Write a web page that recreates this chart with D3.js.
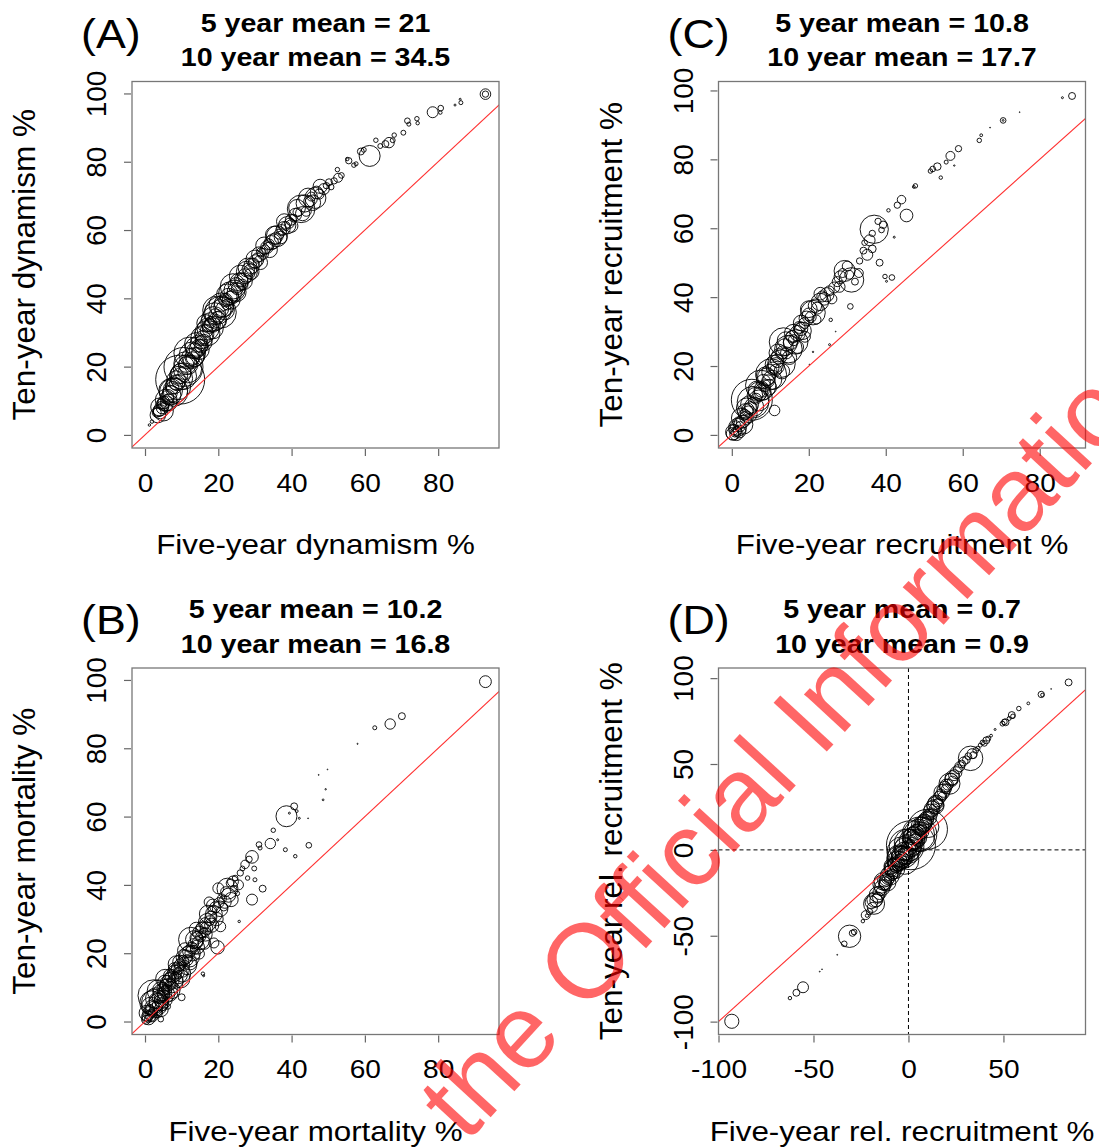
<!DOCTYPE html>
<html>
<head>
<meta charset="utf-8">
<script src="https://cdnjs.cloudflare.com/ajax/libs/d3/7.8.5/d3.min.js"></script>
<style>
  body { margin: 0; background: #fff; }
  text { font-family: "Liberation Sans", Arial, Helvetica, sans-serif; }
</style>
</head>
<body>
<svg id="fig" width="1099" height="1148"></svg>
<script>
// points: [five-year %, ten-year %, plot size]
var dynamism = [
  [1.2,2.9,1.5],[1.9,3.9,3],[3.2,6.5,20],[3.8,7.1,35],[4.2,6.8,50],[4.6,7.8,30],[5.1,9.5,40],[4.4,9,25],
  [5.6,9.2,60],[6,11,45],[6.4,10.4,30],[5.3,8.3,20],[6.8,12.4,55],[7.2,11.6,90],[7.5,13.8,40],[8,14.5,70],
  [8.3,13,150],[8.8,15.2,60],[9.6,16.2,600],[10.5,19.9,380],[9.2,17.5,80],[10,16.5,120],[10.8,18.2,45],
  [11.2,20.6,60],[11.6,19.4,200],[12,21.5,35],[12.5,22.8,80],[12.2,24,250],[13,22.5,40],[13.4,24.6,60],
  [13.8,25.5,110],[14.2,24,30],[14.6,26.8,70],[15,27.5,25],[15.3,26,45],[15.8,28.4,55],[16.2,29.5,90],
  [16.8,30.5,40],[16.5,32.7,75],[17.2,31,120],[17.6,31.8,50],[18,33,30],[18.4,32.4,65],[18.8,34,150],
  [19.2,35,45],[19.6,36.5,200],[20,34.5,35],[20.4,37,80],[20.6,35.9,250],[21,38.5,60],[21.5,37.5,100],
  [22,39.5,45],[22.4,38.2,30],[22.8,40.5,70],[23.2,41.5,130],[23.8,40.6,40],[24.4,42.3,110],[24.8,43.8,60],
  [25.2,42.8,35],[25.7,44.8,80],[26.2,45.5,45],[26.6,44,30],[27.3,46.5,55],[27.8,47.8,110],[28.2,48.5,40],
  [28.6,47.2,25],[29.1,49.5,60],[29.6,50.2,30],[30.1,50.8,45],[30.6,51.8,25],[31.1,52.9,55],[31.6,53.5,20],
  [32.2,53,30],[32.7,54.2,25],[33.3,55,40],[33.8,55.8,30],[34.5,56.3,50],[35,56.7,55],[35.6,57.5,35],
  [36,58.2,110],[36.6,58.8,25],[37.2,60,30],[37.8,60.5,45],[38.4,61.2,20],[38.8,61.4,75],[39.4,62,25],
  [39.8,63,30],[40.5,63.5,15],[41,64.5,40],[41.6,65.2,20],[42.6,66.2,190],[43.6,67.8,75],[44,65.5,25],
  [44.8,68.4,30],[45.4,69.8,20],[46.5,69.4,110],[46.8,71,40],[47.5,70.5,25],[48.8,72,30],[49.5,73,10],
  [50.8,72.6,8],[50.2,74,12],[51.6,74.4,10],[52.5,77.7,5],[52.7,75.3,20],[53.6,76,8],[55.6,80.3,10],
  [55.2,80.8,3],[57,79,5],[57.6,79.4,4],[58.9,83,12],[59.7,83.5,6],[61.3,81.7,110],[63,86.3,5],
  [64.2,84.6,6],[65.6,85.2,12],[66.6,85.6,27],[67.6,86.3,6],[68,87.8,5],[70.5,88.5,6],[71.6,92,8],
  [72,91,4],[74.2,92.6,5],[74.4,91.3,3],[78.5,94.5,30],[80.7,95.7,8],[80.6,94.4,3],[84.6,96.6,1],
  [86.2,97.3,4],[86,98.3,1],[92.9,99.8,28],[92.9,99.8,10],
  [3.5,5.8,60],[4,8.2,80],[5,7,100],[5.8,10.2,120],[6.5,9.5,70],[7,13,140],[7.8,12.5,200],[8.5,16,90],
  [9,14,160],[9.8,18,100],[10.4,17.2,180],[11,21,130],[11.8,20.5,90],[12.8,23.5,160],[13.5,22.8,90],
  [14,26.5,140],[14.8,25,100],[15.5,28.5,120],[16,27,70],[17,29.8,160],[17.8,33,90],[18.5,31.2,110],
  [19,35.5,120],[19.8,33.5,80],[20.8,38,150],[21.8,36.5,90],[22.5,41,120],[23.5,39.5,80],[24,43.5,160],
  [25,41.8,90],[26,46.5,120],[27,45,70],[28,49,90],[29,47.8,60],[30,51.5,80],[31.5,50.5,50],[32.5,55.5,70],
  [34,54.2,60],[35.3,58.5,80],[37,57.8,40],[38,62.5,60],[40,61.2,40],[41.5,66.5,70],[43,64.8,50],
  [44.5,69.5,90],[45.8,68,60],[47.8,72.8,50]
];

var recruitment = [
  [0.2,0.3,40],[0.5,1.5,25],[0.8,0.5,15],[1,2.5,30],[1.4,1.2,20],[1.8,3.5,35],[2.2,2.4,25],[2.5,4.9,100],
  [2.8,3.8,40],[3.2,5.8,30],[3.5,6.8,60],[3.8,5,45],[4.2,7.5,35],[4.6,8.8,80],[5,7.8,40],[5.2,10.2,420],
  [5.5,9.5,250],[6,11.5,60],[6.3,10.5,30],[6.8,12.5,90],[7.2,11.8,45],[7.5,14.4,230],[7.8,13.2,60],
  [8.2,15.5,50],[8.6,14.3,35],[9,16.8,80],[9.4,15.6,40],[9.8,18.2,60],[10.2,17.6,240],[10.6,19.3,40],
  [11.1,7.1,28],[11,20.5,80],[11.4,18.8,35],[11.8,21.5,45],[12.3,22.8,60],[12.9,20.7,190],[13.4,27,200],
  [13.2,24,40],[13.8,25.5,70],[14.2,23.8,35],[14.7,24.9,190],[15.2,26.8,50],[15.7,28.5,40],[16.1,27.5,30],
  [16.6,27,150],[17.1,29.5,60],[17.5,31.2,35],[18,30.8,45],[18.4,30.2,75],[18.9,32.5,30],[19.4,33.8,55],
  [20,35,40],[20.5,34.2,30],[21.1,35.5,150],[21.6,37.5,45],[22.2,36.8,35],[22.9,38.6,75],[23.5,40.2,30],
  [24,39.5,40],[24.7,40.7,50],[25.3,41.8,25],[25.7,33.4,3],[25.4,26.2,1],[21.1,24.1,0.5],[20.2,20.4,0.2],
  [27,30,0.1],[26.6,42.8,30],[27.4,44.5,25],[28.2,45.8,40],[28.8,47,20],[29.3,47.6,110],[30,49,25],
  [30.5,46.5,20],[31.1,45,150],[30.8,37.3,8],[32,44.5,12],[33.2,50.5,10],[34.2,53.5,12],[34.5,55.8,8],
  [35.2,52.3,30],[35.8,56.5,30],[36.5,58.5,10],[37,59.7,200],[38,62,10],[38.4,50,12],[38.9,59.5,8],
  [39.3,61,14],[39.8,46,5],[40.2,44.6,1],[40.7,65.2,3],[41.6,45.7,8],[42.2,57.4,1],[43,66.7,10],
  [44.1,68.3,18],[45.4,63.7,40],[47.3,72,2],[47.7,72.3,5],[51.6,76.6,5],[52.2,77.2,8],[53.4,77.9,14],
  [54.3,74.7,3],[55.7,79.2,4],[56.8,81,20],[57.8,78.2,0.5],[58.9,83.1,10],[64.3,85.5,5],[64.8,87,2],
  [67.1,89.2,0.2],[70.5,91.3,8],[70.5,91.3,0.8],[74.8,93.7,0.1],[85.9,97.9,1],[88.4,98.4,12],
  [0.4,0.8,60],[1.2,0.3,45],[1.5,2.2,80],[2,1,40],[3,3,90],[3.8,7.8,100],[4.4,6,70],[5.8,8.2,90],
  [6.5,13,80],[7,10,110],[8,12.5,70],[8.8,17,90],[9.6,13.8,60],[10.5,16,90],[11.5,20,70],[12,23.8,80],
  [13,18.5,60],[14,27.5,70],[15,22.5,50],[16,29.5,80],[17,25.5,40],[18,32.5,60],[19,28.5,30],[20,36.5,70],
  [22,33.5,20],[23,41,40],[26,39.5,25],[28,43,30],[33,47,20],[36.5,54,15]
];

var mortality = [
  [0.3,0.5,20],[0.6,1.5,30],[0.9,0.8,15],[1.1,2.5,40],[1.3,3.5,25],[1.6,1.8,35],[1.9,4.2,50],[2.2,2.8,20],
  [2.4,7.6,250],[2.7,5.5,180],[3,3.8,40],[3.2,6.2,60],[3.5,4.8,30],[3.8,7.2,45],[4.1,6,35],[4.3,0.7,8],
  [4.5,8.5,70],[4.8,7.2,30],[5,9.6,40],[5.3,8.3,55],[5.6,10.6,35],[5.9,9.4,25],[6.2,4.4,8],[6.2,11.2,60],
  [6.6,12.4,40],[7,10.8,30],[7.2,9.2,75],[7.4,13.2,45],[7.8,12,30],[8.1,14.5,50],[8.5,13.3,25],
  [8.9,15.6,40],[9.2,14.2,30],[9.6,16.6,35],[10,7.1,12],[10,15.2,60],[10.4,17.8,30],[10.8,16.5,25],
  [11.2,19,45],[11.6,18,30],[12,20.5,40],[12.5,24,150],[12.8,21.5,35],[13.2,22.8,25],[13.6,21,20],
  [14,24.5,40],[14.4,23.2,30],[14.8,19.8,27],[14.8,26,45],[15.2,24.8,25],[15.8,14,3],[16,13.4,1],
  [15.6,27.5,35],[16,26.2,20],[16.4,28.8,30],[16.8,27.3,40],[17.2,31.5,75],[17.6,29.5,25],[18,30.6,35],
  [18.4,32.5,20],[18.8,23,25],[19.2,33.5,30],[19.8,21.7,45],[20.2,34.8,25],[20.6,27.8,27],[21,36,20],
  [21.5,33.5,15],[22,38,25],[22.5,38.9,110],[23.5,35.7,50],[23.2,40.5,15],[24.2,39,10],[24.6,42,8],
  [25.2,37.5,5],[25.7,29.3,1.5],[26,43.5,10],[26.6,44.8,6],[27.3,46,18],[28,42,5],[28.4,47.5,10],
  [29.2,48.2,40],[29.2,35.7,30],[29.8,44.8,6],[30,41.5,4],[31.1,51.8,8],[31.4,50.8,4],[32.1,38.9,12],
  [34.2,52.1,27],[35,56,5],[36.2,53.2,1],[38.3,50.3,4],[38.6,60.1,110],[39.4,61,1],[40.7,63,12],
  [41,48.4,3],[41.4,61.6,2],[42.1,59.5,1],[44.7,51.6,8],[44.5,59.5,0.2],[47.4,72.2,0.2],[48.6,64.9,0.8],
  [49.3,68,0.5],[49.8,73.8,0.1],[58,81.3,0.3],[62.7,86,4],[66.9,87.1,27],[70.1,89.4,12],[92.9,99.5,35],
  [0.5,2.5,60],[1,1,45],[1.5,4.5,80],[2,1.5,30],[2.5,3.5,70],[3,6.8,110],[3.4,2.5,25],[3.7,5.5,90],
  [4.2,9.3,60],[4.6,5,40],[5,6.5,80],[5.4,11.5,50],[5.8,8,70],[6.4,9.8,90],[6.8,13.5,40],[7.5,11.5,110],
  [8,15.5,35],[8.3,12,60],[9,13.8,90],[9.4,17.5,45],[10.2,14,70],[10.6,18.8,60],[11.5,16.5,90],[12,19,110],
  [13,20,60],[13.5,24,80],[14.3,21.8,50],[15,23.8,90],[15.8,26.8,60],[16.5,25.5,45],[17,29,80],
  [18.2,28.2,50],[18.8,31.5,70],[19.5,30,45],[20.5,33,60],[21.8,35,40],[22.8,37,50],[24,41,30],
  [25.5,40,25],[20,39,30],[17.5,35,25],
  [1.8,5.5,140],[3.6,9,120],[4.4,3.5,50],[5.5,12.5,90],[6.8,8.2,60],[8.6,16.8,70],[9.8,12.5,80],
  [11,20.8,60],[12.3,17.2,50],[14,27,50],[16.2,23,40],[18.5,34,40]
];

var relRecruitment = [
  [-93,-99.8,50],[-62.4,-86.3,3],[-59,-83.2,12],[-55.5,-80,30],[-46.7,-70.9,0.2],[-45.5,-69.5,0.1],
  [-37.5,-61.1,0.2],[-33.8,-54.7,8],[-31,-50.3,125],[-29.5,-48.5,10],[-28.6,-47.8,8],[-24,-41.5,3],
  [-21.8,-38.3,3],[-20.5,-36,10],[-19,-33.5,25],[-18.1,-31.4,110],[-17,-29.5,40],[-16,-27.8,30],
  [-15.2,-25,45],[-14.5,-24,20],[-13.5,-18.3,75],[-13.8,-22,60],[-12.8,-20.5,30],[-12,-19.5,40],
  [-11.5,-16.8,55],[-10.8,-15.5,35],[-10,-17,25],[-9.5,-13.5,60],[-9,-11.8,40],[-8.5,-14.5,30],
  [-8,-10.5,80],[-7.5,-12.8,45],[-7,-8.6,55],[-6.5,-10,35],[-6,-6.5,100],[-5.5,-8.5,40],[-5,-5,150],
  [-4.5,-7.2,60],[-4,-3,90],[-3.5,-5.5,45],[-3,-1.5,250],[-2.5,-3.8,70],[-2,0.5,120],[-1.5,-2,50],
  [-1,2,300],[-0.5,-0.5,80],[0,4,200],[0.5,1.5,60],[1.3,2.7,600],[1.8,5,90],[2.2,3.5,40],[2.8,7,120],
  [3.2,4.8,55],[3.8,8.8,80],[4.2,6.5,35],[5,10.5,60],[5.5,8.5,250],[6,12.5,45],[6.8,11,35],[7.2,14.5,70],
  [7.8,13,30],[8.5,16.5,55],[9,15,40],[9.8,18.8,45],[10.5,13.3,110],[10.8,20.5,30],[11.5,22.5,50],
  [12.2,21,35],[13,25.5,40],[13.5,23.8,25],[14.2,25.9,75],[15,28.5,35],[15.6,27,25],[16.3,30.5,40],
  [17,32.2,30],[17.8,31,20],[18.5,34.5,45],[19.2,36.5,35],[20,35.5,25],[20.8,38,30],[21.6,38.5,110],
  [22.5,41,40],[23.2,40,25],[24,43.5,30],[25,45,35],[26,47,20],[27,48.5,25],[28,50,15],[29,51.5,20],
  [30.5,52.5,15],[31.5,54.5,12],[32.7,53.3,150],[33.5,56,25],[34.2,55.2,12],[35.4,57.9,8],[36.5,59,5],
  [37.8,61,4],[39,62.5,6],[40,62,8],[41,63.8,12],[42,64.8,6],[43.5,66.5,2],[45.6,70.1,1],[49.5,73.5,6],
  [50.5,74.5,8],[51.1,74.3,12],[53,76.5,4],[54.4,78.5,12],[55,77.8,5],[58.1,82.3,5],[63.1,85.3,2],
  [69.9,90.5,10],[70.5,90.2,3],[75.1,93.7,0.1],[84.3,97.5,12],
  [-19.5,-30.5,40],[-16.5,-26,60],[-14,-20,80],[-12.5,-17.5,50],[-11,-19,70],[-9.8,-15,90],[-8.8,-9.5,60],
  [-7.2,-11,100],[-6.2,-8.2,70],[-5.2,-3.5,120],[-4.2,-6,80],[-3.2,-4,110],[-2.2,-1,90],[-1.2,-3.5,70],
  [-0.2,1,180],[0.8,-1,90],[1,5.5,120],[2,1,70],[2.5,8.2,80],[3.5,6,100],[4.5,9.5,90],[5.2,7,70],
  [6.2,13.8,80],[7,10.5,50],[8,15.5,70],[9.2,17.5,60],[10,12,400],[11,18.5,50],[12.5,24,60],[14,27.5,50],
  [15.2,26,40],[17.5,33.5,60],[19.8,37.5,40],[23,42,50],[-22.5,-38,20],[-17.8,-29,60],[5.8,9,300],[-2,-6,200]
];

var panelLetters = ["(A)", "(C)", "(B)", "(D)"];
var mean5 = [21, 10.8, 10.2, 0.7];
var mean10 = [34.5, 17.7, 16.8, 0.9];
var xLabels = ["Five-year dynamism %", "Five-year recruitment %", "Five-year mortality %", "Five-year rel. recruitment %"];
var yLabels = ["Ten-year dynamism %", "Ten-year recruitment %", "Ten-year mortality %", "Ten-year rel. recruitment %"];
var pctTicksX = [0, 20, 40, 60, 80];
var pctTicksY = [0, 20, 40, 60, 80, 100];
var relTicksX = [-100, -50, 0, 50];
var relTicksY = [-100, -50, 0, 50, 100];

// axis limits as drawn
var xLims = [[-3.55, 96.6], [-3.46, 91.9], [-3.55, 96.6], [-100, 93.2]];
var yLims = [[-3.83, 103.5], [-3.8, 102.6], [-3.8, 103.5], [-107.5, 105.9]];

var svg = d3.select("#fig");
svg.append("rect").attr("width", 1099).attr("height", 1148).attr("fill", "#fff");

var boxW = 367, boxH = 366.5;
var lefts = [132, 718.5], tops = [81.5, 668];
var rSize = d3.scaleSqrt().domain([0, 625]).range([0, 25]);

var panels = [
  { pts: dynamism, col: 0, row: 0, xt: pctTicksX, yt: pctTicksY, zero: false },
  { pts: recruitment, col: 1, row: 0, xt: pctTicksX, yt: pctTicksY, zero: false },
  { pts: mortality, col: 0, row: 1, xt: pctTicksX, yt: pctTicksY, zero: false },
  { pts: relRecruitment, col: 1, row: 1, xt: relTicksX, yt: relTicksY, zero: true }
];

panels.forEach(function (p, i) {
  var g = svg.append("g")
    .attr("transform", "translate(" + lefts[p.col] + "," + tops[p.row] + ")");

  var x = d3.scaleLinear().domain(xLims[i]).range([0, boxW]);
  var y = d3.scaleLinear().domain(yLims[i]).range([boxH, 0]);

  g.append("clipPath").attr("id", "clip" + i)
    .append("rect").attr("width", boxW).attr("height", boxH);

  var plot = g.append("g").attr("clip-path", "url(#clip" + i + ")");

  if (p.zero) {
    plot.append("line")
      .attr("x1", x(0)).attr("x2", x(0)).attr("y1", 0).attr("y2", boxH)
      .attr("stroke", "#000").attr("stroke-width", 1).attr("stroke-dasharray", "4,3");
    plot.append("line")
      .attr("x1", 0).attr("x2", boxW).attr("y1", y(0)).attr("y2", y(0))
      .attr("stroke", "#000").attr("stroke-width", 1).attr("stroke-dasharray", "4,3");
  }

  plot.selectAll("circle")
    .data(p.pts)
    .enter().append("circle")
    .attr("cx", function (d) { return x(d[0]); })
    .attr("cy", function (d) { return y(d[1]); })
    .attr("r", function (d) { return Math.max(0.4, rSize(d[2])); })
    .attr("fill", "none")
    .attr("stroke", "#000")
    .attr("stroke-width", 0.9);

  // 1:1 line
  var lo = Math.min(xLims[i][0], yLims[i][0]), hi = Math.max(xLims[i][1], yLims[i][1]);
  plot.append("line")
    .attr("x1", x(lo)).attr("y1", y(lo)).attr("x2", x(hi)).attr("y2", y(hi))
    .attr("stroke", "#ff3030").attr("stroke-width", 1.1);

  g.append("rect")
    .attr("width", boxW).attr("height", boxH)
    .attr("fill", "none").attr("stroke", "#777").attr("stroke-width", 1.3);

  var fmt = function (d) { return String(d); };

  var xa = g.append("g")
    .attr("transform", "translate(0," + (boxH + 1) + ")")
    .call(d3.axisBottom(x).tickValues(p.xt).tickSize(7).tickFormat(fmt));
  xa.select(".domain").remove();
  xa.selectAll("line").attr("stroke", "#666").attr("stroke-width", 1.2);
  xa.selectAll("text")
    .attr("y", 43).attr("dy", 0)
    .attr("fill", "#000")
    .style("font-size", "26px")
    .attr("transform", "scale(1.08,1)");

  var ya = g.append("g")
    .attr("transform", "translate(-1,0)")
    .call(d3.axisLeft(y).tickValues(p.yt).tickSize(7).tickFormat(fmt));
  ya.select(".domain").remove();
  ya.selectAll("line").attr("stroke", "#666").attr("stroke-width", 1.2);
  ya.selectAll("text")
    .attr("x", 0).attr("y", -25).attr("dy", 0)
    .attr("text-anchor", "middle")
    .attr("fill", "#000")
    .style("font-size", "28px")
    .attr("transform", "rotate(-90)");

  g.append("text")
    .attr("transform", "translate(" + (boxW / 2) + "," + (boxH + 106) + ") scale(1.1,1)")
    .attr("text-anchor", "middle")
    .style("font-size", "28.5px")
    .text(xLabels[i]);

  g.append("text")
    .attr("transform", "translate(-97," + (boxH / 2) + ") rotate(-90)")
    .attr("text-anchor", "middle")
    .style("font-size", "31.5px")
    .text(yLabels[i]);

  g.append("text")
    .attr("transform", "translate(" + (boxW / 2) + ",-50) scale(1.1,1)")
    .attr("text-anchor", "middle")
    .style("font-size", "26px").style("font-weight", "bold")
    .text("5 year mean = " + mean5[i]);
  g.append("text")
    .attr("transform", "translate(" + (boxW / 2) + ",-15.2) scale(1.1,1)")
    .attr("text-anchor", "middle")
    .style("font-size", "26px").style("font-weight", "bold")
    .text("10 year mean = " + mean10[i]);

  g.append("text")
    .attr("transform", "translate(-51,-34) scale(1.12,1)")
    .style("font-size", "40px")
    .text(panelLetters[i]);
});

// watermark
svg.append("text")
  .attr("transform", "translate(466,1144) rotate(-47.4)")
  .style("font-size", "105px")
  .attr("fill", "#ff0000")
  .attr("fill-opacity", 0.6)
  .text("the Official Information Act");
</script>
</body>
</html>
